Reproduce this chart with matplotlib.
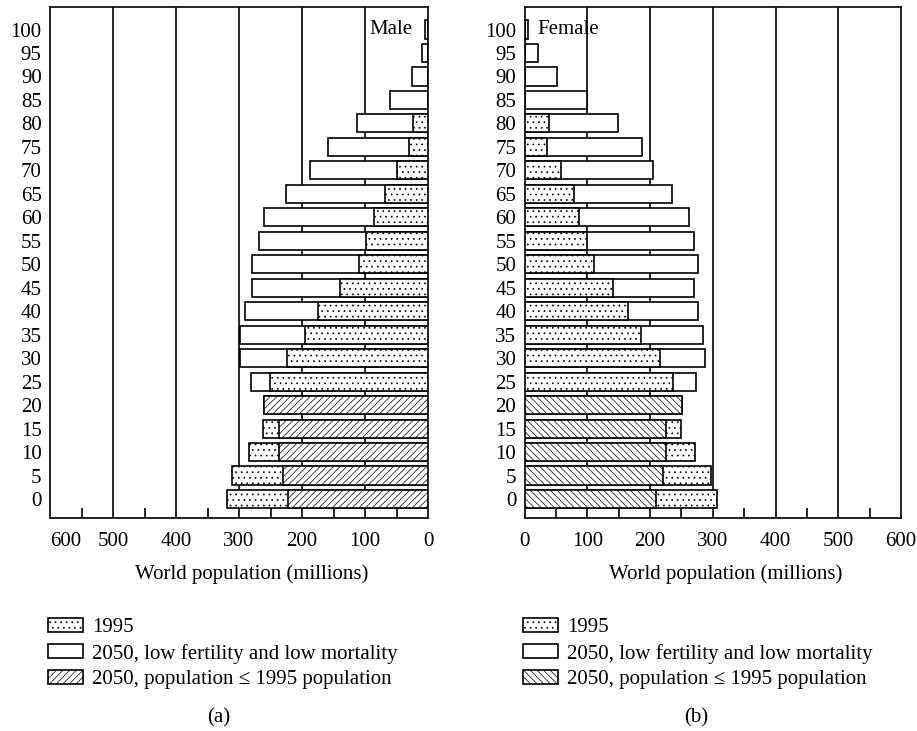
import numpy as np
import matplotlib
matplotlib.use('Agg')
import matplotlib.pyplot as plt
from matplotlib.patches import Patch

plt.rcParams['font.family'] = ['Liberation Serif', 'DejaVu Serif']
plt.rcParams['hatch.linewidth'] = 0.5

# age groups, bottom to top
ages = [0, 5, 10, 15, 20, 25, 30, 35, 40, 45, 50, 55, 60, 65, 70, 75, 80, 85, 90, 95, 100]

# millions (0 = no 1995 bar in that group)
male_1995 = [319, 311, 284, 262, 261, 251, 224, 195, 175, 139, 110, 99, 86, 68, 49, 30, 24, 0, 0, 0, 0]
male_2050 = [222, 230, 237, 237, 261, 281, 298, 298, 291, 279, 279, 269, 261, 225, 188, 159, 112, 61, 26, 10, 5]
female_1995 = [307, 297, 271, 250, 251, 237, 215, 186, 165, 140, 110, 100, 86, 78, 58, 36, 39, 0, 0, 0, 0]
female_2050 = [210, 220, 225, 225, 251, 273, 287, 285, 277, 270, 277, 270, 262, 235, 204, 187, 149, 100, 51, 22, 6]

LEGEND_LABELS = ['1995', '2050, low fertility and low mortality',
                 '2050, population \u2264 1995 population']

FS = 15
DOTS = '...'
LW = 1.2
H = 0.77


def draw_panel(ax, v1995, v2050, hatch, side):
    y = np.arange(len(ages))
    a = np.array(v1995, dtype=float)
    b = np.array(v2050, dtype=float)
    grow = b > a
    shrink = ~grow

    for x in range(100, 600, 100):
        ax.axvline(x, color='black', lw=LW, zorder=0)

    kw = dict(height=H, edgecolor='black', linewidth=LW)
    # 2050 larger: open 2050 bar behind, dotted 1995 in front
    ax.barh(y[grow], b[grow], color='white', zorder=2, **kw)
    m = grow & (a > 0)
    ax.barh(y[m], a[m], color='white', hatch=DOTS, zorder=3, **kw)
    # 2050 smaller or equal: dotted 1995 behind, hatched 2050 in front
    ax.barh(y[shrink], a[shrink], color='white', hatch=DOTS, zorder=2, **kw)
    ax.barh(y[shrink], b[shrink], color='white', hatch=hatch, zorder=3, **kw)

    ax.set_ylim(-0.81, 20.96)
    ax.set_yticks(y)
    ax.set_yticklabels([str(v) for v in ages], fontsize=FS)
    ax.set_xticks(range(0, 700, 100))
    ax.set_xticklabels([str(v) for v in range(0, 700, 100)], fontsize=FS)
    ax.set_xticks(range(50, 600, 100), minor=True)
    ax.tick_params(axis='y', length=0, pad=6)
    ax.tick_params(axis='x', which='major', length=0, pad=10)
    ax.tick_params(axis='x', which='minor', direction='in', length=7.2,
                   width=LW, top=False)
    for s in ax.spines.values():
        s.set_linewidth(LW)

    if side == 'left':
        ax.set_xlim(600, 0)
        for lab in ax.get_xticklabels():
            if lab.get_text() == '600':
                lab.set_ha('left')
        ax.text(25, 20, 'Male', ha='right', va='center', fontsize=FS)
    else:
        ax.set_xlim(0, 600)
        ax.text(20, 20, 'Female', ha='left', va='center', fontsize=FS)


fig = plt.figure(figsize=(9.17, 7.31), dpi=100)
W, Hf = 917.0, 731.0
ax1 = fig.add_axes([50 / W, 1 - 518 / Hf, 378 / W, 511 / Hf])
ax2 = fig.add_axes([524.7 / W, 1 - 518 / Hf, 376.3 / W, 511 / Hf])

draw_panel(ax1, male_1995, male_2050, '/////', 'left')
draw_panel(ax2, female_1995, female_2050, '\\\\\\\\\\', 'right')

fig.text(252 / W, 1 - 574 / Hf, 'World population (millions)', ha='center', va='center', fontsize=FS)
fig.text(726 / W, 1 - 574 / Hf, 'World population (millions)', ha='center', va='center', fontsize=FS)

for x0, hatch in [(48, '/////'), (523, '\\\\\\\\\\')]:
    handles = [Patch(facecolor='white', edgecolor='black', hatch=DOTS, linewidth=LW),
               Patch(facecolor='white', edgecolor='black', linewidth=LW),
               Patch(facecolor='white', edgecolor='black', hatch=hatch, linewidth=LW)]
    fig.legend(handles, LEGEND_LABELS, loc='upper left',
               bbox_to_anchor=(x0 / W, 1 - 618 / Hf), frameon=False,
               fontsize=FS, borderpad=0, borderaxespad=0,
               handlelength=1.68, handleheight=0.67, handletextpad=0.43,
               labelspacing=0.3)

fig.text(219 / W, 1 - 718 / Hf, '(a)', ha='center', va='center', fontsize=FS)
fig.text(696 / W, 1 - 718 / Hf, '(b)', ha='center', va='center', fontsize=FS)

fig.savefig('out.png', dpi=100)
